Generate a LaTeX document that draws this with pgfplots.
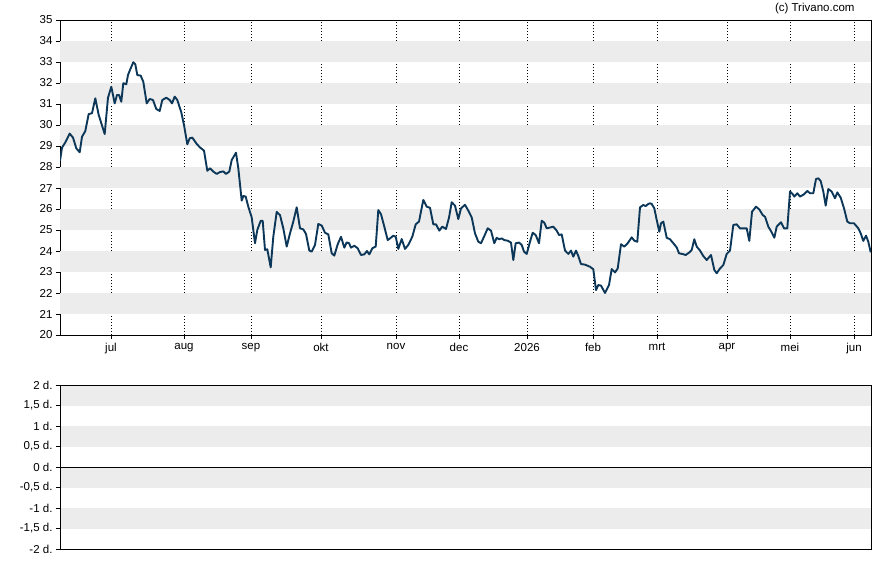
\documentclass[border=0pt]{standalone}
\usepackage{pgfplots}
\pgfplotsset{compat=1.18}
\usepackage{fontspec}
\setmainfont{Liberation Sans}
\definecolor{linec}{RGB}{12,55,88}
\definecolor{band}{RGB}{236,236,236}
\begin{document}
\begin{tikzpicture}
\useasboundingbox (0pt,0pt) rectangle (888pt,565pt);
\pgfplotsset{
  every tick label/.append style={font=\fontsize{11.5}{13}\selectfont, text=black},
  /pgf/number format/assume math mode=true,
}
\begin{axis}[
  at={(60pt,230pt)}, anchor=south west,
  scale only axis, width=811pt, height=315pt,
  xmin=60, xmax=871, ymin=20, ymax=35,
  xtick={111,184,251,321,396,459,527,593,657,727,790,854},
  xticklabels={jul,aug,sep,okt,nov,dec,2026,feb,mrt,apr,mei,jun},
  ytick={20,21,...,35},
  yticklabels={20,21,22,23,24,25,26,27,28,29,30,31,32,33,34,35},
  xtick pos=bottom, ytick pos=left, tick align=outside,
  major tick length=4pt,
  xmajorgrids, major grid style={black, line width=0.8pt, dash pattern=on 1pt off 2pt},
  axis line style={black, line width=0.9pt},
  tick style={black, line width=0.8pt},
  xticklabel style={yshift=-1pt},
]
\pgfplotsinvokeforeach{21,23,...,33}{
  \fill[band] (axis cs:60,#1) rectangle (axis cs:871,#1+1);
}
\addplot[linec, line width=1.9pt, line join=round] coordinates {
(60,28.29) (62,28.92) (65.3,29.17) (69.7,29.59) (73,29.40) (76.3,28.89) (79.7,28.70) (82,29.44) (85.3,29.71) (88.7,30.52) (92,30.56) (95.3,31.27) (98.7,30.48) (104.7,29.57) (108,31.30) (111.3,31.82) (114.7,31.03) (117,31.43) (119,31.43) (121.3,31.11) (123.3,31.99) (126.3,31.94) (128,32.38) (130.7,32.70) (133.3,32.99) (135.3,32.89) (137.3,32.38) (140.7,32.35) (143.3,32.06) (146.7,31.03) (149.7,31.24) (153,31.19) (156.3,30.76) (159.7,30.67) (162.3,31.19) (166.3,31.30) (169.7,31.19) (172,31.03) (174.7,31.35) (177.3,31.19) (181.3,30.60) (184,30.0) (187.3,29.08) (189.7,29.37) (192.3,29.40)
(196.7,29.10) (200,28.93) (204,28.78) (207.3,27.82) (210,27.94) (213.3,27.78) (216.7,27.67) (220,27.76) (223.3,27.79) (226,27.67) (229.3,27.78) (231.7,28.33) (236,28.68) (238.3,27.94) (241.7,26.40) (243.3,26.62) (245.7,26.59) (248.3,26.11) (251.7,25.60) (255,24.37) (257.3,25.0) (260.7,25.44) (262.7,25.44) (265,24.05) (267.3,24.08) (270.7,23.22) (273.3,24.68) (276.7,25.86) (280,25.71) (283.3,25.08) (286.7,24.21) (290,24.84) (293.3,25.40) (296.7,26.08) (300,25.08) (303.3,25.03) (306,24.81) (309.3,24.02) (311.7,23.97) (315,24.29) (318.3,25.29) (321.7,25.21) (325,24.87) (328.3,24.79)
(331.7,23.89) (334.3,23.78) (337.7,24.32) (341,24.68) (344.3,24.16) (346.7,24.41) (349,24.37) (351,24.16) (354.3,24.25) (357.7,24.13) (361,23.81) (364.3,23.84) (367,24.0) (369.3,23.84) (372.3,24.13) (375.7,24.21) (378.3,25.95) (381,25.75) (384.3,25.16) (387.7,24.52) (390,24.60) (393.3,24.73) (395.7,24.68) (398.3,24.10) (401.7,24.57) (405,24.10) (408.3,24.29) (412.3,24.68) (415.7,25.27) (419,25.40) (423.3,26.43) (426.7,26.11) (430,26.06) (433.3,25.27) (436,25.27) (439.3,24.97) (442.3,25.16) (446,25.05) (449,25.59) (451.7,26.32) (455,26.16) (458.3,25.52) (461,26.03) (465,26.20)
(468.3,25.92) (471.7,25.60) (475,24.84) (478.3,24.44) (481,24.37) (484.3,24.71) (487.7,25.08) (491,24.97) (494.3,24.37) (496.7,24.63) (499,24.56) (501.7,24.60) (504.3,24.52) (507.7,24.49) (511,24.40) (513.3,23.57) (515.7,24.37) (519,24.40) (521.7,24.29) (524,23.97) (526.7,23.86) (530,24.44) (532.7,24.87) (535.7,24.76) (539,24.37) (541.7,25.44) (544.3,25.35) (546.7,25.08) (551,25.13) (553.3,25.16) (556.7,24.97) (559,24.76) (561.7,24.79) (565,24.02) (568.3,23.86) (571,24.02) (573.3,23.73) (576,24.02) (578.3,23.76) (581,23.38) (585,23.35) (590,23.25) (593.3,23.13) (596,22.14) (598.3,22.38) (601,22.35) (605,22.0) (609,22.38)
(611.7,23.14) (615,22.98) (617.7,23.17) (621,24.32) (624.3,24.21) (627.7,24.37) (631.7,24.65) (634.3,24.49) (637.3,24.44) (640,26.08) (643.3,26.19) (645.7,26.14) (648.3,26.24) (650,26.27) (651.7,26.24) (654.3,26.03) (656.7,25.48) (659.3,24.92) (661,25.32) (663.3,25.40) (666.7,24.63) (670,24.56) (673.3,24.37) (676.7,24.17) (679,23.89) (682.3,23.86) (685.7,23.81) (689,23.92) (691.7,24.05) (694.3,24.56) (696.7,24.21) (700,24.02) (703.3,23.76) (706.7,23.57) (711,23.81) (714.3,23.10) (716.7,22.94) (720,23.17) (723.3,23.33) (726.7,23.86) (730,24.02) (733.3,25.24) (736.7,25.27) (740,25.08) (746.7,25.08) (749.3,24.48)
(752,25.87) (756,26.11) (759.3,25.98) (762.7,25.71) (765,25.63) (768.3,25.16) (771.7,24.89) (774.3,24.63) (776.7,25.16) (781,25.37) (784,25.08) (787.3,25.08) (790,26.83) (792.7,26.71) (794.3,26.59) (797.3,26.75) (800,26.59) (804,26.70) (807.3,26.86) (810,26.75) (813.3,26.75) (816,27.43) (818.3,27.46) (820.7,27.33) (823.3,26.83) (825.7,26.16) (828.3,26.95) (831.7,26.83) (835,26.51) (837.3,26.79) (840.7,26.54) (844,26.03) (847.3,25.40) (850,25.32) (854,25.32) (858.3,25.08) (860.7,24.84) (863.3,24.48) (866,24.73) (868.3,24.44) (870.7,23.94)
};
\end{axis}
\begin{axis}[
  at={(60pt,16pt)}, anchor=south west,
  scale only axis, width=811pt, height=164pt,
  xmin=60, xmax=871, ymin=-2, ymax=2,
  xtick=\empty,
  ytick={-2,-1.5,...,2},
  yticklabels={{-2 d.},{-1,5 d.},{-1 d.},{-0,5 d.},{0 d.},{0,5 d.},{1 d.},{1,5 d.},{2 d.}},
  ytick pos=left, tick align=outside,
  major tick length=4pt,
  axis line style={black, line width=0.9pt},
  tick style={black, line width=0.8pt},
  axis on top,
]
\pgfplotsinvokeforeach{-1.5,-0.5,0.5,1.5}{
  \fill[band] (axis cs:60,#1) rectangle (axis cs:871,#1+0.5);
}
\addplot[black, line width=0.9pt] coordinates {(60,0) (871,0)};
\end{axis}
\node[anchor=east, font=\fontsize{11.5}{13}\selectfont] at (858pt,556pt) {(c) Trivano.com};
\end{tikzpicture}
\end{document}
